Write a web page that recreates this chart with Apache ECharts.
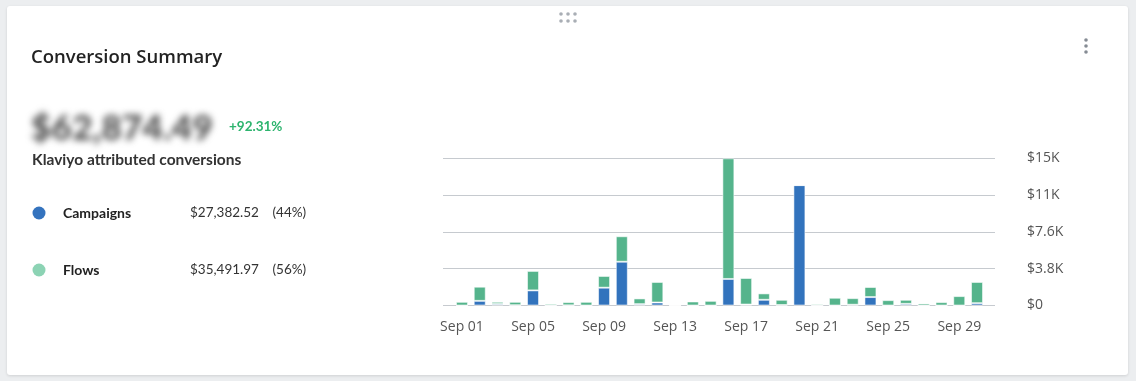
<!DOCTYPE html>
<html>
<head>
<meta charset="utf-8">
<script src="https://cdn.jsdelivr.net/npm/echarts@6/dist/echarts.min.js"></script>
<style>
  html, body { margin: 0; padding: 0; width: 1136px; height: 381px; background: #eceef0; overflow: hidden; }
  #card { position: absolute; left: 7px; top: 6px; width: 1121px; height: 369px; background: #fff; border-radius: 3px; box-shadow: 0 1px 3px rgba(0,0,0,0.12); }
  #blur { position: absolute; left: 31px; top: 104px; line-height: 44px; font-family: Lato, sans-serif; font-weight: 900; font-size: 35px; color: #4a4a4a; filter: blur(3.5px); letter-spacing: 0.3px; }
  #chart { position: absolute; left: 0; top: 0; width: 1136px; height: 381px; }
</style>
</head>
<body>
<div id="card"></div>
<div id="blur">$62,874.49</div>
<div id="chart"></div>
<script>
const categories = ['Sep 01','Sep 02','Sep 03','Sep 04','Sep 05','Sep 06','Sep 07','Sep 08','Sep 09','Sep 10',
  'Sep 11','Sep 12','Sep 13','Sep 14','Sep 15','Sep 16','Sep 17','Sep 18','Sep 19','Sep 20',
  'Sep 21','Sep 22','Sep 23','Sep 24','Sep 25','Sep 26','Sep 27','Sep 28','Sep 29','Sep 30'];
const campaigns = [0, 480, 150, 30, 1560, 0, 20, 0, 1840, 4520,
  140, 310, 0, 0, 0, 2740, 100, 590, 50, 12430,
  0, 0, 80, 870, 0, 170, 0, 0, 0, 240];
const flows = [380, 1460, 230, 350, 2010, 170, 330, 380, 1210, 2630,
  590, 2120, 50, 415, 480, 12460, 2740, 660, 540, 0,
  140, 800, 680, 1040, 555, 420, 210, 350, 970, 2190];
const yTicks = [0, 3800, 7600, 11400, 15200];
const legendNames = ['Campaigns', 'Flows'];
const legendValues = ['$27,382.52', '$35,491.97'];
const legendShares = ['(44%)', '(56%)'];
const title = 'Conversion Summary';
const changeText = '+92.31%';
const subtitle = 'Klaviyo attributed conversions';

const BLUE = '#3273bd', GREEN = '#55b48c';
const LEG_COLORS = ['#3473be', '#8cd3b4'];
const yMax = yTicks[yTicks.length - 1];
const yInterval = yTicks[1] - yTicks[0];
function fmtY(v) {
  if (v === 0) return '$0';
  const k = v / 1000;
  return '$' + (k >= 10 ? Math.round(k) : k.toFixed(1)) + 'K';
}

const chart = echarts.init(document.getElementById('chart'), null, { renderer: 'canvas' });

function txt(x, y, text, font, fill) {
  return { type: 'text', x: x, y: y, style: { text: text, font: font, fill: fill, verticalAlign: 'middle', align: 'left' } };
}
const graphics = [
  txt(31, 57.5, title, '600 18.5px "Open Sans", sans-serif', '#222'),
  txt(229, 127, changeText, '700 13.5px Lato, sans-serif', '#2db46e'),
  txt(32, 160, subtitle, '700 15.5px Lato, sans-serif', '#333')
];
const legY = [213, 270];
legendNames.forEach((n, i) => {
  graphics.push({ type: 'circle', shape: { cx: 39, cy: legY[i], r: 6.5 }, style: { fill: LEG_COLORS[i] } });
  graphics.push(txt(63, legY[i], n, '700 14px Lato, sans-serif', '#222'));
  graphics.push(txt(190, legY[i], legendValues[i], '400 13.5px Lato, sans-serif', '#333'));
  graphics.push(txt(272.5, legY[i], legendShares[i], '400 13.5px Lato, sans-serif', '#333'));
});
// drag handle dots
[561, 568, 575].forEach(x => [14, 21].forEach(y => {
  graphics.push({ type: 'circle', shape: { cx: x, cy: y, r: 1.8 }, style: { fill: '#a9aeb5' } });
}));
// kebab menu
[40, 46, 52].forEach(y => {
  graphics.push({ type: 'circle', shape: { cx: 1086, cy: y, r: 1.8 }, style: { fill: '#868c94' } });
});

const barStyle = (c) => ({ color: c, borderColor: 'rgba(255,255,255,0.55)', borderWidth: 1 });

chart.setOption({
  animation: false,
  graphic: graphics,
  grid: [
    { left: 453.1, right: 150.1, top: 158.3, bottom: 75.5 },
    { left: 443, right: 141, top: 158.3, bottom: 75.5 }
  ],
  xAxis: [
    {
      type: 'category', gridIndex: 0, data: categories, boundaryGap: true,
      axisLine: { show: false }, axisTick: { show: false },
      axisLabel: { interval: 3, margin: 15, color: '#555', fontSize: 14, fontFamily: '"Open Sans", sans-serif' }
    },
    { type: 'value', gridIndex: 1, min: 0, max: 1, show: false }
  ],
  yAxis: [
    { type: 'value', gridIndex: 0, min: 0, max: yMax, interval: yInterval, show: false },
    {
      type: 'value', gridIndex: 1, position: 'right', min: 0, max: yMax, interval: yInterval,
      axisLine: { show: false }, axisTick: { show: false },
      splitLine: { show: true, lineStyle: { color: '#c6cacf', width: 1 } },
      axisLabel: { margin: 32, color: '#555', fontSize: 14, fontFamily: '"Open Sans", sans-serif', formatter: fmtY }
    }
  ],
  series: [
    { name: legendNames[0], type: 'bar', stack: 'total', xAxisIndex: 0, yAxisIndex: 0, barWidth: 12, data: campaigns, itemStyle: barStyle(BLUE) },
    { name: legendNames[1], type: 'bar', stack: 'total', xAxisIndex: 0, yAxisIndex: 0, barWidth: 12, data: flows, itemStyle: barStyle(GREEN) }
  ]
});
</script>
</body>
</html>
